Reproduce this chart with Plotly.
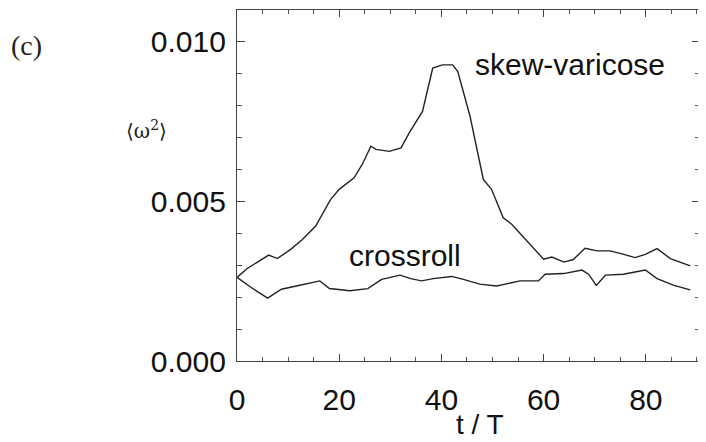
import plotly.graph_objects as go

# skew-varicose series
sv_t = [0.0, 2.0, 4.0, 6.2, 7.9, 10.5, 12.8, 15.4, 18.3, 20.0, 22.9, 24.5, 26.2, 27.2,
        29.8, 32.1, 33.7, 35.6, 36.3, 38.3, 40.2, 42.2, 43.2, 45.6, 48.2, 49.8, 52.1,
        53.8, 57.0, 60.0, 61.6, 64.0, 65.8, 68.1, 70.5, 73.0, 75.5, 77.9, 79.9, 82.2,
        84.8, 88.7]
sv_v = [0.00262, 0.00290, 0.00310, 0.00332, 0.00321, 0.00350, 0.00381, 0.00423, 0.00506,
        0.00538, 0.00574, 0.00616, 0.00673, 0.00663, 0.00657, 0.00668, 0.00715, 0.00767,
        0.00782, 0.00918, 0.00928, 0.00928, 0.00907, 0.00767, 0.00569, 0.00538, 0.00449,
        0.00428, 0.00372, 0.00319, 0.00326, 0.00310, 0.00318, 0.00353, 0.00345, 0.00345,
        0.00335, 0.00324, 0.00334, 0.00352, 0.00321, 0.00298]

# crossroll series
cr_t = [0.0, 3.0, 6.0, 8.7, 11.6, 16.2, 18.1, 22.1, 25.6, 28.3, 31.9, 34.0, 36.1, 38.4,
        42.0, 44.3, 47.5, 50.8, 55.4, 59.0, 60.3, 63.9, 67.5, 68.8, 70.3, 72.1, 75.6,
        79.9, 82.2, 85.5, 88.7]
cr_v = [0.00262, 0.00228, 0.00197, 0.00225, 0.00235, 0.00251, 0.00227, 0.00220, 0.00227,
        0.00256, 0.00269, 0.00258, 0.00251, 0.00258, 0.00265, 0.00256, 0.00241, 0.00235,
        0.00251, 0.00251, 0.00272, 0.00274, 0.00285, 0.00272, 0.00237, 0.00269, 0.00272,
        0.00285, 0.00258, 0.00237, 0.00223]

x_ticks = [0, 20, 40, 60, 80]
y_ticks = [0.000, 0.005, 0.010]

fig = go.Figure()
line_style = dict(color="#222222", width=1.4)
fig.add_trace(go.Scatter(x=sv_t, y=sv_v, mode="lines", line=line_style, showlegend=False))
fig.add_trace(go.Scatter(x=cr_t, y=cr_v, mode="lines", line=line_style, showlegend=False))

font_main = "Liberation Sans, Arial, sans-serif"
axis_common = dict(
    showgrid=False, zeroline=False, showline=True, linecolor="#444444", linewidth=1.2,
    mirror="allticks", ticks="inside", tickcolor="#444444", tickwidth=1.2,
    tickfont=dict(family=font_main, size=30, color="#111111"),
)

fig.update_xaxes(
    range=[0, 90.6], tickvals=x_ticks, ticklen=7, ticklabelstandoff=12,
    minor=dict(dtick=5, tick0=0, ticks="inside", ticklen=4, tickcolor="#555555"),
    **axis_common,
)
fig.update_yaxes(
    range=[0, 0.011], tickvals=y_ticks, tickformat=".3f", ticklen=8, ticklabelstandoff=4,
    minor=dict(dtick=0.001, tick0=0, ticks="inside", ticklen=5, tickcolor="#555555"),
    **axis_common,
)

# plot area on screen: x 237..700, y 10..361 (page has an 8px body margin)
PX0, PW, PY1, PH = 237, 463, 361, 351


def px(xp):
    return (xp - PX0) / PW


def py(yp):
    return (PY1 - yp) / PH


def label(text, xp, yp, family, size, color="#111111"):
    return dict(text=text, x=px(xp), y=py(yp), xref="paper", yref="paper",
                xanchor="center", yanchor="middle", showarrow=False,
                font=dict(family=family, size=size, color=color))


fig.update_layout(
    width=698, height=434,
    margin=dict(l=229, r=6, t=2, b=81),
    paper_bgcolor="white", plot_bgcolor="white",
    annotations=[
        label("skew-varicose", 570, 64, font_main, 30),
        label("crossroll", 405, 255, font_main, 30),
        label("(c)", 26, 45, "Liberation Serif, serif", 28, "#222222"),
        label("⟨ω<sup>2</sup>⟩", 146, 130, "DejaVu Serif, serif", 20, "#222222"),
        label("t / T", 480, 424, font_main, 28),
    ],
)

fig.write_html("out.html")
